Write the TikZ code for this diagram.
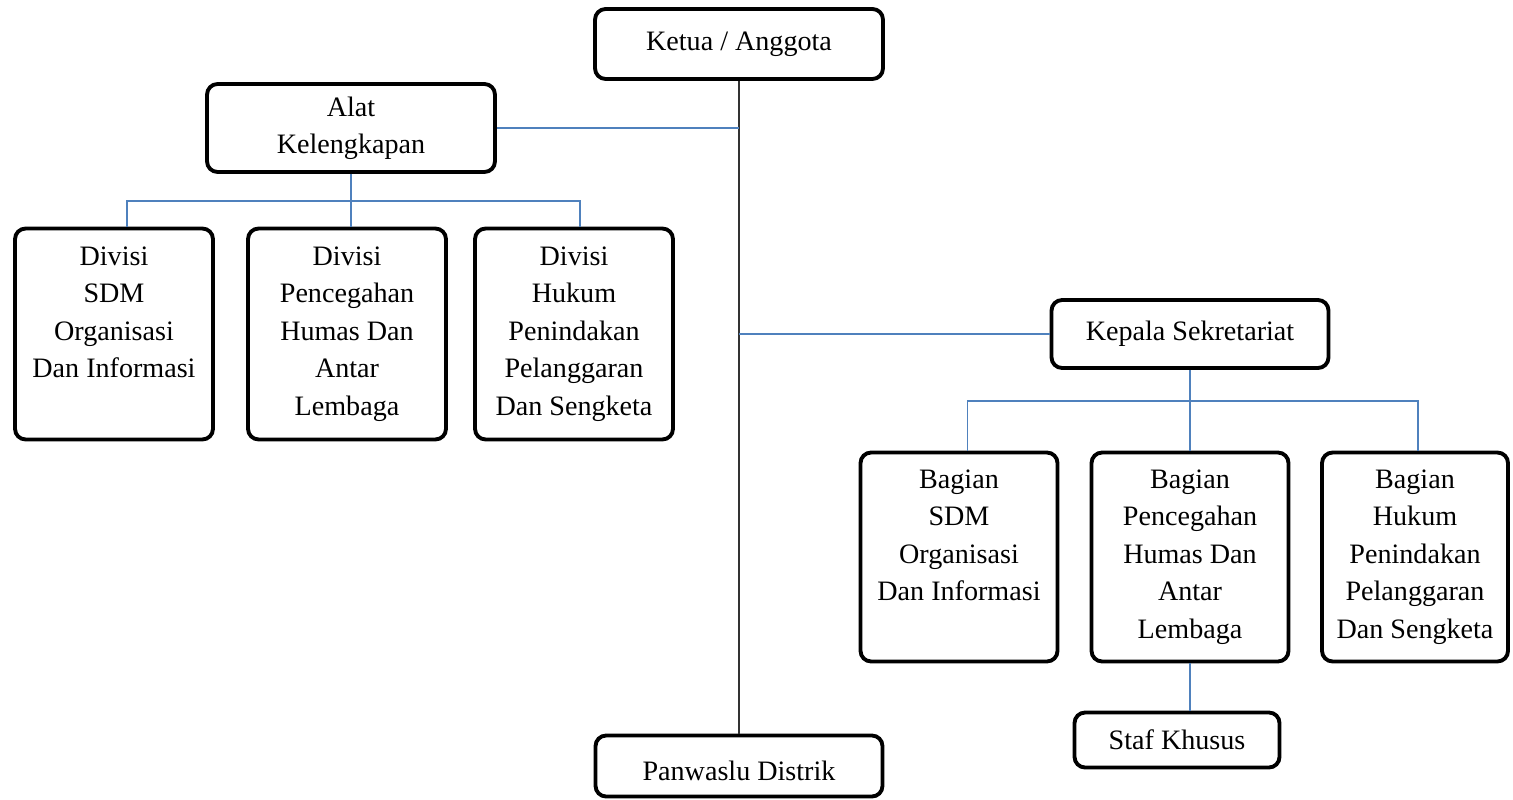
\documentclass[tikz,border=0pt]{standalone}
\usepackage{xcolor}
\usepackage{fontspec}
\setmainfont{Liberation Serif}
\usepackage{tikz}
\definecolor{linkblue}{RGB}{79,129,189}

\begin{document}
\begin{tikzpicture}[
  x=0.02cm, y=-0.02cm,
  box/.style={rectangle, draw, line width=2.2pt, rounded corners=6pt, align=center, inner sep=2pt, font=\fontsize{16}{21.3}\selectfont},
  link/.style={draw=linkblue, line width=1pt},
  spine/.style={draw=black!80, line width=1.1pt}
]
  \useasboundingbox (0,0) rectangle (1513,800);

  \node[box, minimum width=5.76cm, minimum height=1.4cm] (ketua) at (739,44) {Ketua / Anggota};
  \node[box, minimum width=5.76cm, minimum height=1.76cm] (alat) at (351,128) {Alat\\Kelengkapan};
  \node[box, minimum width=3.96cm, minimum height=4.22cm] (dsdm) at (114,334) {Divisi\\SDM\\Organisasi\\Dan Informasi\\\vphantom{g}};
  \node[box, minimum width=3.96cm, minimum height=4.22cm] (dpen) at (347,334) {Divisi\\Pencegahan\\Humas Dan\\Antar\\Lembaga};
  \node[box, minimum width=3.96cm, minimum height=4.22cm] (dhuk) at (574,334) {Divisi\\Hukum\\Penindakan\\Pelanggaran\\Dan Sengketa};
  \node[box, minimum width=5.54cm, minimum height=1.36cm] (kepala) at (1190,334) {Kepala Sekretariat};
  \node[box, minimum width=3.94cm, minimum height=4.18cm] (bsdm) at (959,557) {Bagian\\SDM\\Organisasi\\Dan Informasi\\\vphantom{g}};
  \node[box, minimum width=3.94cm, minimum height=4.18cm] (bpen) at (1190,557) {Bagian\\Pencegahan\\Humas Dan\\Antar\\Lembaga};
  \node[box, minimum width=3.72cm, minimum height=4.18cm] (bhuk) at (1415,557) {Bagian\\Hukum\\Penindakan\\Pelanggaran\\Dan Sengketa};
  \node[box, minimum width=4.1cm, minimum height=1.1cm] (staf) at (1177,740) {Staf Khusus};
  \node[box, minimum width=5.74cm, minimum height=1.22cm, text height=17pt] (panwaslu) at (739,766) {Panwaslu Distrik};

  \draw[spine] (ketua.south) -- (panwaslu.north);
  \draw[link] (alat.east) -- (alat.east -| ketua.south);
  \draw[link] (kepala.west) -- (kepala.west -| ketua.south);

  \draw[link] (alat.south) -- ++(0,27) coordinate (abus);
  \draw[link] ([xshift=0.26cm]dsdm.north) |- (abus) -| ([xshift=0.12cm]dhuk.north);
  \draw[link] (abus) -- (abus |- dpen.north);

  \draw[link] (kepala.south) -- ++(0,31) coordinate (kbus);
  \draw[link] ([xshift=0.17cm]bsdm.north) |- (kbus) -| ([xshift=0.06cm]bhuk.north);
  \draw[link] (kbus) -- (kbus |- bpen.north);
  \draw[link] (bpen.south) -- (bpen.south |- staf.north);
\end{tikzpicture}
\end{document}
